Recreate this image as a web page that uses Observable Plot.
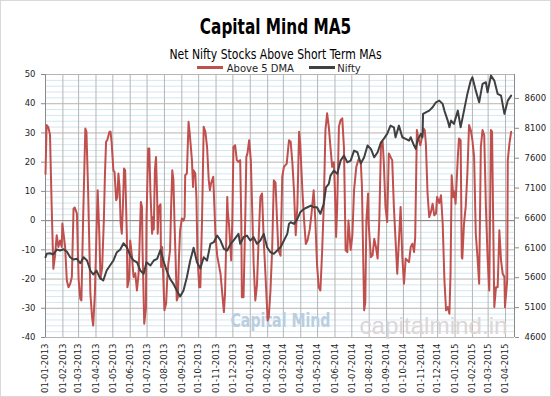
<!DOCTYPE html>
<html>
<head>
<meta charset="utf-8">
<script src="https://cdn.jsdelivr.net/npm/d3@7"></script>
<script src="https://cdn.jsdelivr.net/npm/@observablehq/plot@0.6"></script>
<style>
  body { margin: 0; background: #fff; }
  #chart { position: relative; width: 551px; height: 397px; background: #fff; overflow: hidden; }
  .frame { position: absolute; left: 0; top: 0; width: 551px; height: 397px; box-sizing: border-box; border: 1px solid #d9d9d9; pointer-events: none; }
  .title { position: absolute; left: 0; width: 551px; text-align: center; top: 15px; line-height: 1; font: bold 21px "DejaVu Sans Condensed", sans-serif; color: #000; transform: scaleX(0.81); transform-origin: 275.5px 0; }
  .subtitle { position: absolute; left: 0; width: 551px; text-align: center; top: 45.5px; line-height: 1; font: 14px "DejaVu Sans Condensed", sans-serif; color: #000; transform: scaleX(0.86); transform-origin: 275.5px 0; }
  .sw { position: absolute; height: 2.5px; width: 26px; top: 66px; }
  .lt { position: absolute; top: 62.5px; line-height: 1; font: 10px "DejaVu Sans", sans-serif; color: #1e1e1e; white-space: nowrap; }
  #plot { position: absolute; left: 0; top: 66px; }
</style>
</head>
<body>
<div id="chart">
  <div class="title">Capital Mind MA5</div>
  <div class="subtitle">Net Nifty Stocks Above Short Term MAs</div>
  <div class="sw" style="left:197px;background:#c0504d"></div>
  <div class="lt" style="left:226.7px">Above 5 DMA</div>
  <div class="sw" style="left:308.5px;background:#404040"></div>
  <div class="lt" style="left:337.3px">Nifty</div>
  <div id="plot"></div>
  <div class="frame"></div>
</div>
<script>
// ---- Series: Above 5 DMA (left axis) ----
const redDates = [
"2013-01-01","2013-01-03","2013-01-06","2013-01-09","2013-01-12","2013-01-15","2013-01-18","2013-01-21","2013-01-24","2013-01-27","2013-01-30","2013-01-31",
"2013-02-05","2013-02-08","2013-02-11","2013-02-14","2013-02-17","2013-02-20","2013-02-22","2013-02-26",
"2013-03-01","2013-03-04","2013-03-06","2013-03-09","2013-03-13","2013-03-15","2013-03-18","2013-03-22","2013-03-25","2013-03-27","2013-03-30",
"2013-04-04","2013-04-07","2013-04-09","2013-04-12","2013-04-15","2013-04-17","2013-04-19","2013-04-21","2013-04-25","2013-04-27","2013-04-29",
"2013-05-02","2013-05-04","2013-05-07","2013-05-09","2013-05-11","2013-05-13","2013-05-15","2013-05-17","2013-05-19","2013-05-21","2013-05-23","2013-05-26","2013-05-27","2013-05-30",
"2013-06-01","2013-06-04","2013-06-07","2013-06-10","2013-06-13","2013-06-16","2013-06-20","2013-06-22","2013-06-23","2013-06-26","2013-06-29","2013-06-30",
"2013-07-03","2013-07-05","2013-07-07","2013-07-10","2013-07-12","2013-07-13","2013-07-15","2013-07-17","2013-07-19","2013-07-20","2013-07-22","2013-07-25","2013-07-26","2013-07-28","2013-07-30",
"2013-08-01","2013-08-04","2013-08-06","2013-08-08","2013-08-11","2013-08-13","2013-08-15","2013-08-17","2013-08-19","2013-08-21","2013-08-23","2013-08-25","2013-08-27","2013-08-29",
"2013-09-01","2013-09-04","2013-09-06","2013-09-07","2013-09-10","2013-09-13","2013-09-15","2013-09-19","2013-09-21","2013-09-22","2013-09-25","2013-09-27","2013-09-29",
"2013-10-02","2013-10-04","2013-10-07","2013-10-10","2013-10-13","2013-10-16","2013-10-19","2013-10-21","2013-10-23","2013-10-27","2013-10-29","2013-10-31",
"2013-11-03","2013-11-09","2013-11-15","2013-11-17","2013-11-21","2013-11-22","2013-11-24","2013-11-28","2013-11-30",
"2013-12-02","2013-12-05","2013-12-08","2013-12-11","2013-12-14","2013-12-16","2013-12-17","2013-12-20","2013-12-23","2013-12-25","2013-12-27","2013-12-30",
"2014-01-02","2014-01-05","2014-01-07","2014-01-10","2014-01-13","2014-01-16","2014-01-19","2014-01-22","2014-01-25","2014-01-28",
"2014-02-01","2014-02-03","2014-02-06","2014-02-09","2014-02-12","2014-02-15","2014-02-18","2014-02-20","2014-02-24","2014-02-27",
"2014-03-02","2014-03-07","2014-03-11","2014-03-14","2014-03-17","2014-03-20","2014-03-23","2014-03-26","2014-03-29","2014-03-31",
"2014-04-04","2014-04-07","2014-04-10","2014-04-13","2014-04-17","2014-04-20","2014-04-24","2014-04-27","2014-04-30",
"2014-05-03","2014-05-06","2014-05-09","2014-05-12","2014-05-15","2014-05-18","2014-05-21","2014-05-24","2014-05-27","2014-05-30",
"2014-06-01","2014-06-03","2014-06-05","2014-06-08","2014-06-11","2014-06-14","2014-06-17","2014-06-20","2014-06-23","2014-06-25","2014-06-29",
"2014-07-02","2014-07-05","2014-07-09","2014-07-13","2014-07-17","2014-07-19","2014-07-23","2014-07-25","2014-07-27","2014-07-30","2014-07-31",
"2014-08-04","2014-08-07","2014-08-10","2014-08-13","2014-08-16","2014-08-19","2014-08-22","2014-08-25","2014-08-27","2014-08-30",
"2014-09-02","2014-09-05","2014-09-08","2014-09-11","2014-09-14","2014-09-17","2014-09-20","2014-09-23","2014-09-26","2014-09-29",
"2014-10-02","2014-10-05","2014-10-08","2014-10-11","2014-10-14","2014-10-17","2014-10-20","2014-10-22","2014-10-25","2014-10-27","2014-10-31",
"2014-11-02","2014-11-06","2014-11-08","2014-11-10","2014-11-13","2014-11-16","2014-11-19","2014-11-22","2014-11-25","2014-11-28","2014-11-30",
"2014-12-04","2014-12-07","2014-12-10","2014-12-13","2014-12-16","2014-12-19","2014-12-22","2014-12-24","2014-12-26","2014-12-29","2014-12-31",
"2015-01-02","2015-01-06","2015-01-08","2015-01-11","2015-01-13","2015-01-14","2015-01-17","2015-01-20","2015-01-23","2015-01-26","2015-01-29",
"2015-02-01","2015-02-04","2015-02-07","2015-02-10","2015-02-13","2015-02-16","2015-02-19","2015-02-22","2015-02-25","2015-02-28",
"2015-03-03","2015-03-06","2015-03-08","2015-03-10","2015-03-12","2015-03-15","2015-03-18","2015-03-21","2015-03-24","2015-03-27","2015-03-30","2015-03-31",
"2015-04-04","2015-04-05","2015-04-08","2015-04-11"
];
const redValues = [
16,32.7,32,29.5,5,-16.5,-12,-5,-9,-6.8,-9,-1,
-9,-20.5,-22.8,-21.6,-19.3,4.1,4.5,2.4,
-20,-26.7,-27.3,0,31.5,30.4,10,-25,-33,-35.9,-25,
10.4,-5,-20,-16,0,16,27,27.5,30.4,30.4,26.4,
17.2,16.7,7,8,16.1,11.5,-1,-4.5,5,17.8,17.2,-5,-22.8,-20,
-6.8,-12,-19.3,-18,-23.9,-18,6.4,4.7,-10,-35.3,-30,0,
24.7,24.7,10,-4.5,1.2,-3,17.2,21.8,8,-4.5,4.7,5.6,-15.9,-9,-20,
-30.7,-28.4,-20,-14.7,-10.2,5,17.2,14,-1,-13.6,-27.3,-26.2,-12,-3.3,
0.7,0,1.2,15.5,16.1,33.8,30,20.7,11.5,17.2,16.1,8,-12.5,
-22.8,-22.8,0,32.1,30.4,25.2,13.8,10.4,12.7,15,5,-5,
-12,-18.2,-31.3,-25,8.1,3,-1,-13.6,0,
25.2,25.8,20.7,20.1,20.7,0,-26.2,-26.2,0,21.8,23,27.5,
20.7,0,-14.7,-27.3,-22,-6,8.1,9.3,-6.8,-18.2,
-34.2,-33,-23.9,-10,13.8,13,-1,-10,-12,15,
18.4,19.5,27.5,27,20,10,-5,5,30.4,26.4,
10,0,-8,-6.8,-3,2,10.4,0,-15,
-22.8,-23.9,-11,5,31,36.7,32.1,25,18.4,20,
10,-5.6,5,32.1,34.4,35,25,-10.2,-10.8,0,-10,
-5,10.4,18.4,21,20,12,-30.7,-28,0,9.3,-1,
-12.5,-11.9,-6.2,-9,-13,0,26.4,27,20,4.7,
-0.5,23,21.8,20.7,4.7,-6.8,-18.2,-6.8,4.7,-12.5,
-21.6,-13,-13.6,-14.2,-9,-7.9,-10.8,-5.6,31,28.7,25.8,
27.5,31.5,31,26.4,9.3,1.2,2.9,5.8,1.8,2.4,8.1,
6,8.7,-1,-20,-30.7,-29.6,-31.9,-18,15.5,8,10,
5.8,21.8,28.1,27.5,-12.5,-13,-1,4.7,16.1,32.7,31,
27.5,21.8,-4.5,-12.5,-21.6,25.2,31,29.2,5,-12.5,
-23.9,31,30.4,0,-29.6,-22.8,-22.8,-3.3,-13.6,-18.2,-19.3,-29.6,
-20.5,20.7,26.4,30.4
];

// ---- Series: Nifty (right axis) ----
const niftyDates = [
"2013-01-01","2013-01-03","2013-01-09","2013-01-15","2013-01-21","2013-01-27","2013-02-02","2013-02-08","2013-02-14","2013-02-20","2013-02-26",
"2013-03-04","2013-03-10","2013-03-16","2013-03-22","2013-03-27","2013-04-02","2013-04-08","2013-04-14","2013-04-20","2013-04-26",
"2013-05-02","2013-05-08","2013-05-14","2013-05-20","2013-05-26","2013-06-01","2013-06-07","2013-06-13","2013-06-19","2013-06-25","2013-06-30",
"2013-07-07","2013-07-13","2013-07-19","2013-07-25","2013-07-30","2013-08-05","2013-08-11","2013-08-17","2013-08-23","2013-08-29",
"2013-09-04","2013-09-10","2013-09-16","2013-09-22","2013-09-28","2013-10-04","2013-10-10","2013-10-16","2013-10-22","2013-10-28",
"2013-11-03","2013-11-09","2013-11-15","2013-11-21","2013-11-27","2013-12-02","2013-12-11","2013-12-14","2013-12-20","2013-12-26",
"2014-01-01","2014-01-07","2014-01-13","2014-01-19","2014-01-25","2014-01-31","2014-02-06","2014-02-12","2014-02-18","2014-02-24",
"2014-03-02","2014-03-08","2014-03-11","2014-03-14","2014-03-20","2014-03-26","2014-03-31","2014-04-07","2014-04-13","2014-04-19","2014-04-24","2014-04-30",
"2014-05-06","2014-05-09","2014-05-12","2014-05-16","2014-05-21","2014-05-24","2014-05-30","2014-06-05","2014-06-11","2014-06-17","2014-06-23","2014-06-29",
"2014-07-05","2014-07-11","2014-07-17","2014-07-23","2014-07-29","2014-08-04","2014-08-10","2014-08-16","2014-08-22","2014-08-27",
"2014-09-02","2014-09-08","2014-09-14","2014-09-17","2014-09-23","2014-09-29","2014-10-05","2014-10-11","2014-10-14","2014-10-20","2014-10-23","2014-10-26",
"2014-11-01","2014-11-04","2014-11-05","2014-11-10","2014-11-16","2014-11-22","2014-11-28","2014-12-04","2014-12-10","2014-12-13","2014-12-19","2014-12-22","2014-12-25","2014-12-30",
"2015-01-06","2015-01-11","2015-01-17","2015-01-23","2015-01-29","2015-02-01","2015-02-07","2015-02-13","2015-02-19","2015-02-25","2015-02-28",
"2015-03-06","2015-03-12","2015-03-18","2015-03-24","2015-03-30","2015-04-05","2015-04-11"
];
const niftyValues = [
5943,6000,6010,5988,6072,6055,6077,6038,5943,5904,5916,
5842,5943,5888,5720,5654,5720,5598,5553,5720,5804,
5888,6026,6067,6177,6110,5971,5888,5859,5720,5665,5859,
5804,5888,5916,6067,5888,5720,5581,5498,5386,5286,
5386,5608,5888,6100,5859,5755,5943,5888,6167,6194,
6306,6222,6083,6055,6167,6222,6334,6167,6278,6306,
6222,6278,6167,6222,6334,6110,6026,6000,6055,6110,
6222,6334,6501,6528,6501,6585,6695,6752,6779,6807,6779,6779,
6669,6752,6836,7113,7170,7309,7393,7337,7560,7643,7531,7560,
7727,7699,7510,7615,7811,7755,7615,7699,7866,7923,
8006,8145,8117,7950,8145,7950,7923,7894,7950,7811,7755,7894,
8006,7950,8341,8368,8396,8451,8535,8563,8508,8396,8229,8117,8229,8174,
8396,8117,8396,8675,8898,8953,8730,8535,8843,8870,8702,
8981,8898,8675,8647,8341,8563,8647
];

// ---- Axes ----
const tickLabels = [
"01-01-2013","01-02-2013","01-03-2013","01-04-2013","01-05-2013","01-06-2013","01-07-2013","01-08-2013","01-09-2013","01-10-2013","01-11-2013","01-12-2013",
"01-01-2014","01-02-2014","01-03-2014","01-04-2014","01-05-2014","01-06-2014","01-07-2014","01-08-2014","01-09-2014","01-10-2014","01-11-2014","01-12-2014",
"01-01-2015","01-02-2015","01-03-2015","01-04-2015"
];
const leftTicks = [-40, -30, -20, -10, 0, 10, 20, 30, 40, 50];
const niftyTicks = [4600, 5100, 5600, 6100, 6600, 7100, 7600, 8100, 8600];
const leftDomain = [-40, 50];
const rightDomain = [4600, 9000];
const xStart = "2013-01-01", xEnd = "2015-04-17";

const parse = d3.utcParse("%Y-%m-%d");
const parseLabel = d3.utcParse("%d-%m-%Y");
const fmtLabel = d3.utcFormat("%d-%m-%Y");
const toLeft = v => leftDomain[0] + (v - rightDomain[0]) * (leftDomain[1] - leftDomain[0]) / (rightDomain[1] - rightDomain[0]);
const fromLeft = v => rightDomain[0] + (v - leftDomain[0]) * (rightDomain[1] - rightDomain[0]) / (leftDomain[1] - leftDomain[0]);

const red = redDates.map((d, i) => ({date: parse(d), value: redValues[i]}));
const nifty = niftyDates.map((d, i) => ({date: parse(d), value: niftyValues[i]}));
const tickDates = tickLabels.map(parseLabel);
const minorTicks = d3.range(leftDomain[0], leftDomain[1] + 1, 2).filter(v => v % 10 !== 0);
const xDomain = [parse(xStart), parse(xEnd)];

const chart = Plot.plot({
  width: 551,
  height: 331,
  marginTop: 8,
  marginBottom: 60,
  marginLeft: 45,
  marginRight: 37,
  style: {fontFamily: "DejaVu Sans", fontSize: "8.5px", color: "#1e1e1e", background: "transparent", overflow: "visible"},
  x: {type: "utc", domain: xDomain},
  y: {domain: leftDomain},
  marks: [
    Plot.ruleY(minorTicks, {stroke: "#d3e7f0", strokeWidth: 1}),
    Plot.ruleY(leftTicks, {stroke: "#b5b5b5", strokeWidth: 1}),
    Plot.ruleX(tickDates, {stroke: "#b5b5b5", strokeWidth: 1}),
    Plot.ruleY([0], {stroke: "#8a8a8a", strokeWidth: 1}),
    Plot.ruleX([xDomain[0]], {stroke: "#8a8a8a", strokeWidth: 1}),
    Plot.ruleX([xDomain[1]], {stroke: "#8a8a8a", strokeWidth: 1}),
    Plot.text(["Capital Mind"], {frameAnchor: "bottom-left", dx: 185, dy: -16.7, textAnchor: "start", lineAnchor: "middle",
      fontSize: 20, fontWeight: "bold", fontFamily: "DejaVu Sans Condensed, sans-serif", fill: "#b9cee0"}),
    Plot.text(["capitalmind.in"], {frameAnchor: "bottom-left", dx: 314, dy: -11, textAnchor: "start", lineAnchor: "middle",
      fontSize: 24, fontFamily: "Liberation Sans, Arial, sans-serif", fill: "#ddd5d5"}),
    Plot.line(red, {x: "date", y: "value", stroke: "#c0504d", strokeWidth: 2}),
    Plot.line(nifty, {x: "date", y: d => toLeft(d.value), stroke: "#404040", strokeWidth: 2}),
    Plot.axisY(leftTicks, {anchor: "left", tickSize: 4, tickPadding: 6, label: null, stroke: "#8a8a8a", tickFormat: d => String(d)}),
    Plot.axisY(niftyTicks.map(toLeft), {anchor: "right", tickSize: 4, tickPadding: 6, label: null, stroke: "#8a8a8a", tickFormat: v => String(Math.round(fromLeft(v)))}),
    Plot.axisX(tickDates, {anchor: "bottom", tickSize: 0, tickPadding: 6, tickRotate: -90, label: null, tickFormat: d => fmtLabel(d)})
  ]
});

document.getElementById("plot").appendChild(chart);
const svg = d3.select(chart);
svg.selectAll("text").filter(function() { return this.textContent === "Capital Mind"; })
  .attr("textLength", 100).attr("lengthAdjust", "spacingAndGlyphs");
svg.selectAll("text").filter(function() { return this.textContent === "capitalmind.in"; })
  .attr("textLength", 148).attr("lengthAdjust", "spacingAndGlyphs");
</script>
</body>
</html>
